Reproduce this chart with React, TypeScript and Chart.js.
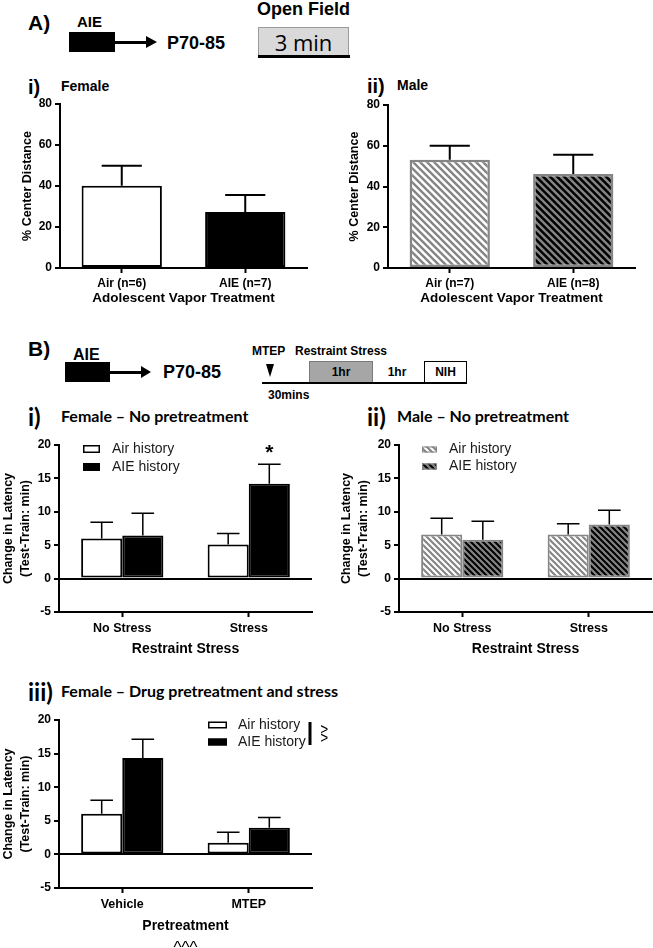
import React, { useEffect, useRef } from 'react';
import { Chart, registerables } from 'chart.js';

Chart.register(...registerables);

const SANS = '"Liberation Sans", Arial, Helvetica, sans-serif';
const HEAD = 'Lato, "Open Sans", sans-serif';

// ---------------- data ----------------
const femaleOpenFieldLabels = ['Air (n=6)', 'AIE (n=7)'];
const femaleCenterDistance = [40.1, 27.3];
const femaleCenterDistanceSem = [9.8, 8.3];

const maleOpenFieldLabels = ['Air (n=7)', 'AIE (n=8)'];
const maleCenterDistance = [53.1, 46.1];
const maleCenterDistanceSem = [6.9, 9.5];

const centerDistanceTicks = [0, 20, 40, 60, 80];

const historyLabels = ['Air history', 'AIE history'];

const stressLabels = ['No Stress', 'Stress'];
const femaleAirLatency = [6.0, 5.1];
const femaleAirLatencySem = [2.45, 1.65];
const femaleAieLatency = [6.45, 14.2];
const femaleAieLatencySem = [3.35, 2.9];
const femaleAieMarks = ['', '*'];

const maleAirLatency = [6.6, 6.6];
const maleAirLatencySem = [2.45, 1.6];
const maleAieLatency = [5.8, 8.1];
const maleAieLatencySem = [2.8, 2.15];

const pretreatmentLabels = ['Vehicle', 'MTEP'];
const drugAirLatency = [6.05, 1.75];
const drugAirLatencySem = [2.0, 1.55];
const drugAieLatency = [14.35, 3.95];
const drugAieLatencySem = [2.8, 1.55];

const latencyTicks = [-5, 0, 5, 10, 15, 20];

// ---------------- helpers ----------------
function makeHatch(bg: string, stripe: string, size = 7, lw = 2.4) {
  const c = document.createElement('canvas');
  c.width = size;
  c.height = size;
  const g = c.getContext('2d')!;
  g.fillStyle = bg;
  g.fillRect(0, 0, size, size);
  g.strokeStyle = stripe;
  g.lineWidth = lw;
  g.beginPath();
  g.moveTo(-1, -1);
  g.lineTo(size + 1, size + 1);
  g.moveTo(-2, size - 2);
  g.lineTo(2, size + 2);
  g.moveTo(size - 2, -2);
  g.lineTo(size + 2, 2);
  g.stroke();
  return g.createPattern(c, 'repeat')!;
}

const errorBarPlugin = {
  id: 'errorBars',
  afterDatasetsDraw(chart: any, _a: any, o: any) {
    const { ctx } = chart;
    const y = chart.scales.y;
    chart.data.datasets.forEach((ds: any, di: number) => {
      if (!ds.errors) return;
      const meta = chart.getDatasetMeta(di);
      meta.data.forEach((el: any, i: number) => {
        const v = ds.data[i];
        const top = y.getPixelForValue(v + ds.errors[i]);
        const cap = el.width * (o.cap ?? 0.5);
        ctx.save();
        ctx.strokeStyle = '#000';
        ctx.lineWidth = o.width ?? 2;
        ctx.beginPath();
        ctx.moveTo(el.x, el.y);
        ctx.lineTo(el.x, top);
        ctx.moveTo(el.x - cap / 2, top);
        ctx.lineTo(el.x + cap / 2, top);
        ctx.stroke();
        if (ds.marks && ds.marks[i]) {
          ctx.fillStyle = '#000';
          ctx.font = `bold ${o.markSize ?? 20}px ${SANS}`;
          ctx.textAlign = 'center';
          ctx.textBaseline = 'alphabetic';
          ctx.fillText(ds.marks[i], el.x, top - (o.markGap ?? 2));
        }
        ctx.restore();
      });
    });
  },
};

const boxLegendPlugin = {
  id: 'boxLegend',
  afterDraw(chart: any, _a: any, o: any) {
    if (!o) return;
    const { ctx, chartArea } = chart;
    if (o.show) {
      chart.data.datasets.forEach((ds: any, i: number) => {
        const x = chartArea.left + o.dx;
        const cy = chartArea.top + o.dy + i * o.rowGap;
        ctx.save();
        ctx.fillStyle = ds.backgroundColor;
        ctx.fillRect(x, cy - o.boxH / 2, o.boxW, o.boxH);
        if (o.boxBorder) {
          const b = o.boxBorder;
          ctx.strokeStyle = ds.borderColor;
          ctx.lineWidth = b;
          ctx.strokeRect(x + b / 2, cy - o.boxH / 2 + b / 2, o.boxW - b, o.boxH - b);
        }
        ctx.fillStyle = '#1a1a1a';
        ctx.font = `${o.fontSize}px ${SANS}`;
        ctx.textBaseline = 'middle';
        ctx.textAlign = 'left';
        ctx.fillText(ds.label, x + o.textDx, cy);
        ctx.restore();
      });
    }
    if (o.bracket) {
      const b = o.bracket;
      const x = chartArea.left + b.dx;
      ctx.save();
      ctx.strokeStyle = '#000';
      ctx.lineWidth = 3;
      ctx.beginPath();
      ctx.moveTo(x, chartArea.top + b.dy1);
      ctx.lineTo(x, chartArea.top + b.dy2);
      ctx.stroke();
      ctx.translate(x + b.textDx, chartArea.top + (b.dy1 + b.dy2) / 2);
      ctx.rotate(Math.PI / 2);
      ctx.fillStyle = '#000';
      ctx.font = `${b.fontSize}px ${SANS}`;
      ctx.textAlign = 'center';
      ctx.textBaseline = 'middle';
      ctx.fillText(b.text, 0, 0);
      ctx.restore();
    }
    if (o.footnote) {
      const f = o.footnote;
      ctx.save();
      ctx.fillStyle = '#000';
      ctx.font = `${f.fontSize}px ${SANS}`;
      ctx.textAlign = 'center';
      ctx.textBaseline = 'middle';
      ctx.fillText(f.text, (chartArea.left + chartArea.right) / 2, chartArea.bottom + f.dy);
      ctx.restore();
    }
  },
};

function barConfig(p: any) {
  return {
    type: 'bar',
    data: { labels: p.labels, datasets: p.datasets },
    plugins: [errorBarPlugin, boxLegendPlugin],
    options: {
      responsive: false,
      animation: false,
      layout: { padding: { top: p.padTop, right: p.padRight, left: 0, bottom: 0 } },
      datasets: { bar: { categoryPercentage: 0.65, barPercentage: 1 } },
      plugins: {
        legend: { display: false },
        tooltip: { enabled: false },
        errorBars: p.errorOpts,
        boxLegend: p.legend ?? { show: false },
      },
      scales: {
        x: {
          offset: true,
          grid: {
            display: true,
            offset: false,
            drawOnChartArea: false,
            drawTicks: true,
            tickLength: 5,
            tickWidth: 2,
            tickColor: '#000',
          },
          border: { display: true, color: '#000', width: 2 },
          ticks: {
            color: '#000',
            font: { family: SANS, size: p.xTickSize, weight: 'bold' },
            padding: p.xTickPad,
            maxRotation: 0,
            autoSkip: false,
          },
          title: {
            display: true,
            text: p.xTitle,
            color: '#000',
            font: { family: SANS, size: p.xTitleSize, weight: 'bold', lineHeight: 1.2 },
            padding: { top: 0, bottom: p.xTitlePad },
          },
          afterFit: (s: any) => {
            s.height = p.xHeight;
          },
        },
        y: {
          min: p.ticks[0],
          max: p.ticks[p.ticks.length - 1],
          afterBuildTicks: (s: any) => {
            s.ticks = p.ticks.map((v: number) => ({ value: v }));
          },
          grid: {
            display: true,
            drawOnChartArea: p.zeroLine,
            color: (c: any) => (c.tick && c.tick.value === 0 ? '#000' : 'rgba(0,0,0,0)'),
            lineWidth: 2,
            drawTicks: true,
            tickLength: 5,
            tickWidth: 2,
            tickColor: '#000',
          },
          border: { display: true, color: '#000', width: 2 },
          ticks: { color: '#000', font: { family: SANS, size: 12, weight: 'bold' }, padding: 3 },
          title: {
            display: true,
            text: p.yTitle,
            color: '#000',
            font: { family: SANS, size: 12.5, weight: 'bold', lineHeight: p.yTitleLH },
            padding: { top: p.yTitlePad, bottom: 0 },
          },
          afterFit: (s: any) => {
            s.width = p.yWidth;
          },
        },
      },
    },
  };
}

const latencyTitle = ['Change in Latency', '(Test-Train: min)'];

function femaleOpenField() {
  return barConfig({
    labels: femaleOpenFieldLabels,
    datasets: [
      {
        label: 'Female',
        data: femaleCenterDistance,
        errors: femaleCenterDistanceSem,
        backgroundColor: ['#ffffff', '#000000'],
        borderColor: '#000',
        borderWidth: 2,
        borderSkipped: false,
      },
    ],
    ticks: centerDistanceTicks,
    padTop: 14,
    padRight: 13,
    yWidth: 60,
    yTitle: '% Center Distance',
    yTitleLH: 1.2,
    yTitlePad: 20.5,
    xTitle: 'Adolescent Vapor Treatment',
    xTitleSize: 13.5,
    xTitlePad: 0,
    xTickSize: 12,
    xTickPad: 3,
    xHeight: 38,
    zeroLine: false,
    errorOpts: { cap: 0.5, width: 2 },
  });
}

function maleOpenField() {
  return barConfig({
    labels: maleOpenFieldLabels,
    datasets: [
      {
        label: 'Male',
        data: maleCenterDistance,
        errors: maleCenterDistanceSem,
        backgroundColor: [makeHatch('#ffffff', '#858585'), makeHatch('#000000', '#858585')],
        borderColor: '#858585',
        borderWidth: 2.5,
        borderSkipped: false,
      },
    ],
    ticks: centerDistanceTicks,
    padTop: 15,
    padRight: 18,
    yWidth: 68,
    yTitle: '% Center Distance',
    yTitleLH: 1.2,
    yTitlePad: 27.5,
    xTitle: 'Adolescent Vapor Treatment',
    xTitleSize: 13.5,
    xTitlePad: 0,
    xTickSize: 12,
    xTickPad: 3,
    xHeight: 38,
    zeroLine: false,
    errorOpts: { cap: 0.5, width: 2 },
  });
}

function femaleNoPretreatment() {
  return barConfig({
    labels: stressLabels,
    datasets: [
      {
        label: historyLabels[0],
        data: femaleAirLatency,
        errors: femaleAirLatencySem,
        backgroundColor: '#ffffff',
        borderColor: '#000',
        borderWidth: 2,
        borderSkipped: false,
      },
      {
        label: historyLabels[1],
        data: femaleAieLatency,
        errors: femaleAieLatencySem,
        marks: femaleAieMarks,
        backgroundColor: '#000000',
        borderColor: '#000',
        borderWidth: 2,
        borderSkipped: false,
      },
    ],
    ticks: latencyTicks,
    padTop: 15,
    padRight: 8,
    yWidth: 59,
    yTitle: latencyTitle,
    yTitleLH: 1.35,
    yTitlePad: 0.5,
    xTitle: 'Restraint Stress',
    xTitleSize: 14,
    xTitlePad: 2.6,
    xTickSize: 12.5,
    xTickPad: 4,
    xHeight: 48,
    zeroLine: true,
    errorOpts: { cap: 0.55, width: 1.5, markSize: 21, markGap: 5 },
    legend: { show: true, dx: 24, dy: 4, rowGap: 18, boxW: 17, boxH: 8, boxBorder: 1.5, textDx: 29, fontSize: 14 },
  });
}

function maleNoPretreatment() {
  return barConfig({
    labels: stressLabels,
    datasets: [
      {
        label: historyLabels[0],
        data: maleAirLatency,
        errors: maleAirLatencySem,
        backgroundColor: makeHatch('#ffffff', '#858585', 6, 2.2),
        borderColor: '#858585',
        borderWidth: 2,
        borderSkipped: false,
      },
      {
        label: historyLabels[1],
        data: maleAieLatency,
        errors: maleAieLatencySem,
        backgroundColor: makeHatch('#000000', '#858585', 6, 2.2),
        borderColor: '#858585',
        borderWidth: 2,
        borderSkipped: false,
      },
    ],
    ticks: latencyTicks,
    padTop: 15,
    padRight: 1,
    yWidth: 79,
    yTitle: latencyTitle,
    yTitleLH: 1.35,
    yTitlePad: 18.5,
    xTitle: 'Restraint Stress',
    xTitleSize: 14,
    xTitlePad: 2.6,
    xTickSize: 12.5,
    xTickPad: 4,
    xHeight: 48,
    zeroLine: true,
    errorOpts: { cap: 0.55, width: 1.5 },
    legend: { show: true, dx: 23, dy: 4.5, rowGap: 17, boxW: 15, boxH: 6, boxBorder: 1, textDx: 27, fontSize: 14 },
  });
}

function femaleDrug() {
  return barConfig({
    labels: pretreatmentLabels,
    datasets: [
      {
        label: historyLabels[0],
        data: drugAirLatency,
        errors: drugAirLatencySem,
        backgroundColor: '#ffffff',
        borderColor: '#000',
        borderWidth: 2,
        borderSkipped: false,
      },
      {
        label: historyLabels[1],
        data: drugAieLatency,
        errors: drugAieLatencySem,
        backgroundColor: '#000000',
        borderColor: '#000',
        borderWidth: 2,
        borderSkipped: false,
      },
    ],
    ticks: latencyTicks,
    padTop: 15,
    padRight: 28,
    yWidth: 59,
    yTitle: latencyTitle,
    yTitleLH: 1.35,
    yTitlePad: 0.5,
    xTitle: 'Pretreatment',
    xTitleSize: 14,
    xTitlePad: 13.6,
    xTickSize: 12.5,
    xTickPad: 4,
    xHeight: 60,
    zeroLine: true,
    errorOpts: { cap: 0.55, width: 1.5 },
    legend: {
      show: true,
      dx: 149,
      dy: 5,
      rowGap: 17,
      boxW: 19,
      boxH: 7,
      boxBorder: 1.5,
      textDx: 30,
      fontSize: 14,
      bracket: { dx: 251, dy1: 2, dy2: 25, textDx: 10, text: '^^', fontSize: 18 },
      footnote: { text: '^^^', dy: 60, fontSize: 17 },
    },
  });
}

// ---------------- components ----------------
function ChartCanvas(props: { left: number; top: number; width: number; height: number; make: () => any }) {
  const ref = useRef<HTMLCanvasElement>(null);
  useEffect(() => {
    const chart = new Chart(ref.current as HTMLCanvasElement, props.make());
    return () => chart.destroy();
  }, []);
  return (
    <canvas
      ref={ref}
      width={props.width}
      height={props.height}
      style={{ position: 'absolute', left: props.left, top: props.top, width: props.width, height: props.height }}
    />
  );
}

function T(props: {
  x: number;
  y: number;
  size: number;
  bold?: boolean;
  family?: string;
  center?: boolean;
  children: React.ReactNode;
}) {
  return (
    <div
      style={{
        position: 'absolute',
        left: props.x,
        top: props.y,
        transform: props.center ? 'translate(-50%,-50%)' : 'translateY(-50%)',
        fontFamily: props.family ?? SANS,
        fontSize: props.size,
        fontWeight: props.bold === false ? 400 : 700,
        lineHeight: 1,
        whiteSpace: 'nowrap',
        color: '#000',
      }}
    >
      {props.children}
    </div>
  );
}

function Box(props: { x: number; y: number; w: number; h: number; style?: React.CSSProperties }) {
  return (
    <div
      style={{
        position: 'absolute',
        left: props.x,
        top: props.y,
        width: props.w,
        height: props.h,
        boxSizing: 'border-box',
        ...props.style,
      }}
    />
  );
}

function ArrowRight(props: { x: number; y: number; w: number; h: number }) {
  return (
    <div
      style={{
        position: 'absolute',
        left: props.x,
        top: props.y - props.h / 2,
        width: 0,
        height: 0,
        borderTop: `${props.h / 2}px solid transparent`,
        borderBottom: `${props.h / 2}px solid transparent`,
        borderLeft: `${props.w}px solid #000`,
      }}
    />
  );
}

export default function App() {
  return (
    <div
      style={{
        position: 'absolute',
        left: 0,
        top: 0,
        width: 653,
        height: 948,
        overflow: 'hidden',
        background: '#fff',
      }}
    >
      {/* ---- A) schematic ---- */}
      <T x={28} y={22} size={21}>A)</T>
      <T x={77} y={21} size={15}>AIE</T>
      <Box x={69} y={32} w={46} h={20} style={{ background: '#000' }} />
      <Box x={115} y={40.5} w={33} h={3} style={{ background: '#000' }} />
      <ArrowRight x={146} y={42} w={11} h={12} />
      <T x={167} y={43} size={18}>P70-85</T>
      <T x={257} y={9} size={18}>Open Field</T>
      <Box x={258} y={27} w={91} h={29} style={{ background: '#d9d9d9', border: '1px solid #9a9a9a' }} />
      <Box x={258} y={55} w={92} h={3} style={{ background: '#000' }} />
      <T x={303.5} y={42} size={22} bold={false} family={'"Open Sans", sans-serif'} center>
        3 min
      </T>

      {/* ---- A) panel headings ---- */}
      <T x={28} y={87} size={20}>i)</T>
      <T x={61} y={86} size={14}>Female</T>
      <T x={367} y={86} size={20}>ii)</T>
      <T x={397} y={85} size={14}>Male</T>

      <ChartCanvas left={0} top={90} width={320} height={216} make={femaleOpenField} />
      <ChartCanvas left={320} top={90} width={333} height={216} make={maleOpenField} />

      {/* ---- B) schematic ---- */}
      <T x={28} y={348} size={21}>B)</T>
      <T x={73} y={355} size={16}>AIE</T>
      <Box x={65} y={362} w={45} h={20} style={{ background: '#000' }} />
      <Box x={110} y={370.5} w={32} h={3} style={{ background: '#000' }} />
      <ArrowRight x={141} y={372} w={10} h={12} />
      <T x={163} y={372} size={18}>P70-85</T>
      <T x={252} y={351} size={12}>MTEP</T>
      <T x={295} y={351} size={12}>Restraint Stress</T>
      <div
        style={{
          position: 'absolute',
          left: 266,
          top: 364,
          width: 0,
          height: 0,
          borderLeft: '4px solid transparent',
          borderRight: '4px solid transparent',
          borderTop: '13px solid #000',
        }}
      />
      <Box x={309} y={361} w={64} h={22} style={{ background: '#a6a6a6', border: '1px solid #7a7a7a' }} />
      <T x={341} y={372} size={12} center>1hr</T>
      <T x={397} y={372} size={12} center>1hr</T>
      <Box x={424} y={361} w={43} h={22} style={{ background: '#fff', border: '1.5px solid #000' }} />
      <T x={445.5} y={372} size={12} center>NIH</T>
      <Box x={262} y={382} w={205} h={2} style={{ background: '#000' }} />
      <T x={268} y={395} size={12}>30mins</T>

      {/* ---- B) panel headings ---- */}
      <T x={28} y={417} size={24} family={HEAD}>i)</T>
      <T x={61} y={416} size={16} family={HEAD}>Female – No pretreatment</T>
      <T x={367} y={417} size={24} family={HEAD}>ii)</T>
      <T x={397} y={416} size={16} family={HEAD}>Male – No pretreatment</T>
      <T x={28} y={692} size={24} family={HEAD}>iii)</T>
      <T x={61} y={691} size={16} family={HEAD}>Female –  Drug pretreatment and stress</T>

      <ChartCanvas left={0} top={430} width={320} height={230} make={femaleNoPretreatment} />
      <ChartCanvas left={320} top={430} width={333} height={230} make={maleNoPretreatment} />
      <ChartCanvas left={0} top={705} width={340} height={243} make={femaleDrug} />
    </div>
  );
}
